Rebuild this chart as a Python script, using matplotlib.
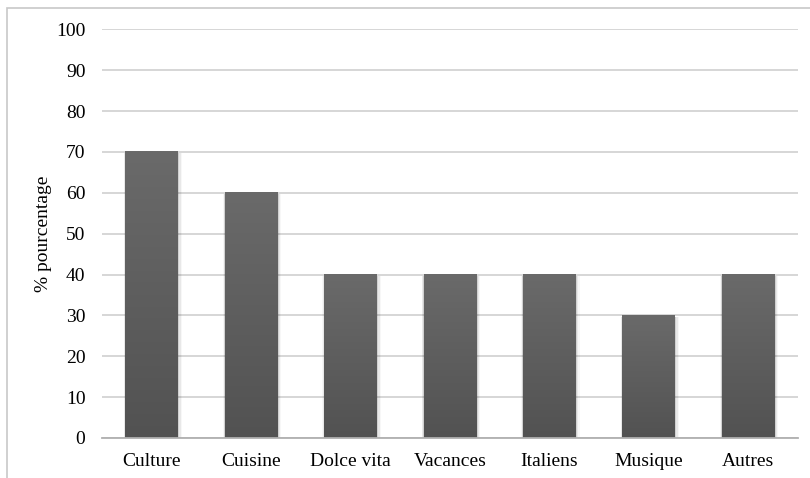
import numpy as np
import matplotlib.pyplot as plt
from matplotlib.patches import Rectangle

categories = ['Culture', 'Cuisine', 'Dolce vita', 'Vacances', 'Italiens', 'Musique', 'Autres']
values = [70, 60, 40, 40, 40, 30, 40]
yticks = [0, 10, 20, 30, 40, 50, 60, 70, 80, 90, 100]

plt.rcParams['font.family'] = ['Liberation Serif', 'DejaVu Serif']

fig = plt.figure(figsize=(8.10, 4.78), dpi=100)
ax = fig.add_axes([0.126, 0.0837, 0.859, 0.855])

# outer chart frame (top and left edges visible)
fig.patches.append(Rectangle((7 / 810, -0.1), 1.2, 1 - 8 / 478 + 0.1,
                             transform=fig.transFigure, fill=False,
                             edgecolor='#c8c8c8', linewidth=1.2, zorder=0))

x = np.arange(len(categories))
width = 0.53

# vertical gradient, lighter at the top
grad = np.linspace(0, 1, 256).reshape(-1, 1)
cmap = plt.matplotlib.colors.LinearSegmentedColormap.from_list('barg', ['#525252', '#6a6a6a'])

for xi, v in zip(x, values):
    # soft shadow, mostly to the sides
    for k, a in enumerate([0.10, 0.06, 0.03]):
        off = 0.012 * (k + 1)
        ax.add_patch(Rectangle((xi - width / 2 - off / 2, 0), width + off * 1.6, v - 0.3,
                               facecolor='black', alpha=a, edgecolor='none', zorder=2))
    ax.imshow(grad, extent=(xi - width / 2, xi + width / 2, 0, v), origin='lower',
              cmap=cmap, aspect='auto', zorder=3)

ax.set_xlim(-0.5, len(categories) - 0.5)
ax.set_ylim(0, 100)
ax.set_xticks(x)
ax.set_xticklabels(categories, fontsize=14)
ax.set_yticks(yticks)
ax.tick_params(axis='y', labelsize=14, length=0, pad=12)
ax.tick_params(axis='x', length=0, pad=11)
ax.yaxis.grid(True, color='#d0d0d0', linewidth=1.2)
ax.set_axisbelow(True)
for s in ['top', 'right', 'left']:
    ax.spines[s].set_visible(False)
ax.spines['bottom'].set_color('#b0b0b0')
ax.spines['bottom'].set_linewidth(1.3)
ax.spines['bottom'].set_zorder(4)
ax.set_ylabel('% pourcentage', fontsize=14, labelpad=3)

fig.savefig('out.png', dpi=100)
